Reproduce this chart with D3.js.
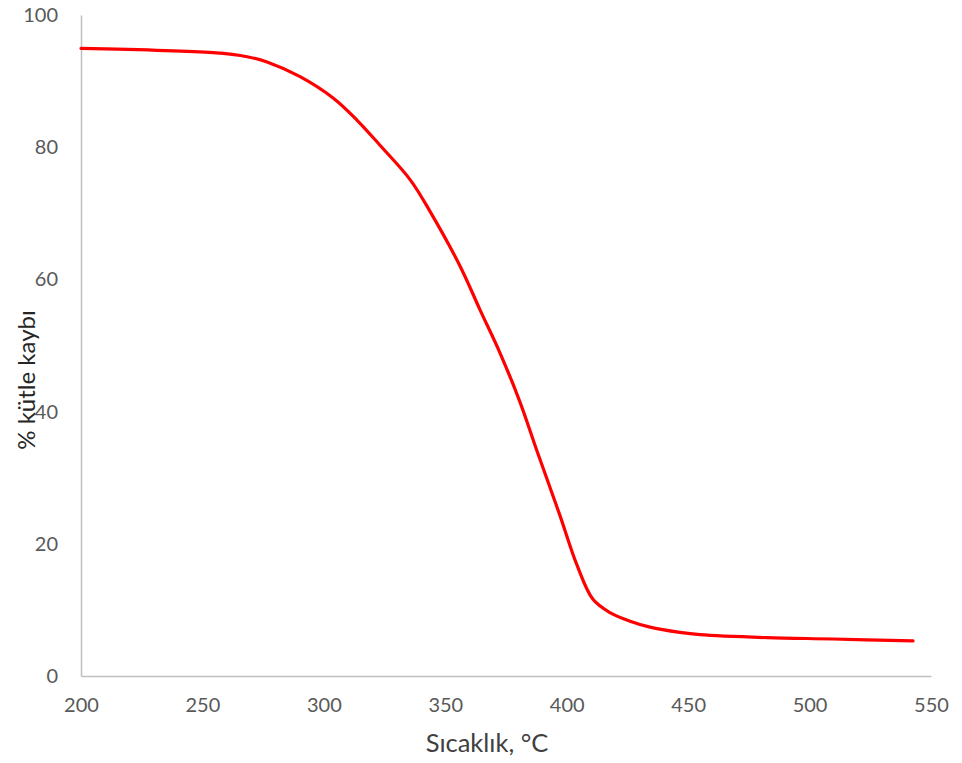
<!DOCTYPE html>
<html>
<head>
<meta charset="utf-8">
<script src="https://cdn.jsdelivr.net/npm/d3@7"></script>
<style>
  html, body { margin: 0; padding: 0; background: #fff; }
  svg { display: block; }
</style>
</head>
<body>
<svg id="chart" width="962" height="763"></svg>
<script>
// Thermogravimetric curve: mass loss (%) against temperature (°C)
const temperature = [200, 254.4, 268.4, 276.6, 290.2, 303.8, 313.6, 323.1, 335.5, 343.7, 356.1, 364.3, 372.5, 380.8, 387.8, 397.2, 404.2, 410.8, 417.8, 426.1, 434.3, 446.6, 454.9, 482.5, 509.6, 542.6];
const massLoss    = [94.96, 94.3, 93.69, 92.89, 90.67, 87.44, 84.11, 80.3, 75.1, 70.3, 62.0, 55.4, 48.9, 41.4, 34.0, 24.3, 16.8, 11.6, 9.6, 8.3, 7.4, 6.6, 6.25, 5.8, 5.6, 5.3];
const xTicks = [200, 250, 300, 350, 400, 450, 500, 550];
const yTicks = [0, 20, 40, 60, 80, 100];
const xTitle = "Sıcaklık, °C";
const yTitle = "% kütle kaybı";

const svg = d3.select("#chart");
const fontFamily = "Lato, 'Open Sans', sans-serif";

const plotLeft = 81, plotRight = 931, plotTop = 15, plotBottom = 676;

const x = d3.scaleLinear().domain([200, 550]).range([plotLeft, plotRight]);
const y = d3.scaleLinear().domain([0, 100]).range([plotBottom, plotTop]);

// Y axis
const yAxis = svg.append("g")
  .attr("transform", `translate(${plotLeft},0)`)
  .call(d3.axisLeft(y).tickValues(yTicks).tickSize(0).tickPadding(23));
yAxis.select(".domain").attr("stroke", "#bfbfbf").attr("stroke-width", 1.5);
yAxis.selectAll("text")
  .attr("fill", "#595959")
  .style("font-family", fontFamily)
  .style("font-size", "20px");

// X axis
const xAxis = svg.append("g")
  .attr("transform", `translate(0,${plotBottom})`)
  .call(d3.axisBottom(x).tickValues(xTicks).tickSize(0).tickPadding(22));
xAxis.select(".domain").attr("stroke", "#bfbfbf").attr("stroke-width", 1.5);
xAxis.selectAll("text")
  .attr("fill", "#595959")
  .style("font-family", fontFamily)
  .style("font-size", "20px");

// Axis titles
svg.append("text")
  .attr("x", 487)
  .attr("y", 752)
  .attr("text-anchor", "middle")
  .attr("fill", "#404040")
  .style("font-family", fontFamily)
  .style("font-size", "25.5px")
  .text(xTitle);

svg.append("text")
  .attr("transform", `translate(35,380) rotate(-90)`)
  .attr("text-anchor", "middle")
  .attr("fill", "#262626")
  .style("font-family", fontFamily)
  .style("font-size", "24px")
  .text(yTitle);

// Curve
const points = temperature.map((t, i) => [t, massLoss[i]]);
const line = d3.line()
  .x(d => x(d[0]))
  .y(d => y(d[1]))
  .curve(d3.curveCatmullRom.alpha(0.5));

svg.append("path")
  .datum(points)
  .attr("d", line)
  .attr("fill", "none")
  .attr("stroke", "#ff0000")
  .attr("stroke-width", 3.2)
  .attr("stroke-linecap", "round")
  .attr("stroke-linejoin", "round");
</script>
</body>
</html>
